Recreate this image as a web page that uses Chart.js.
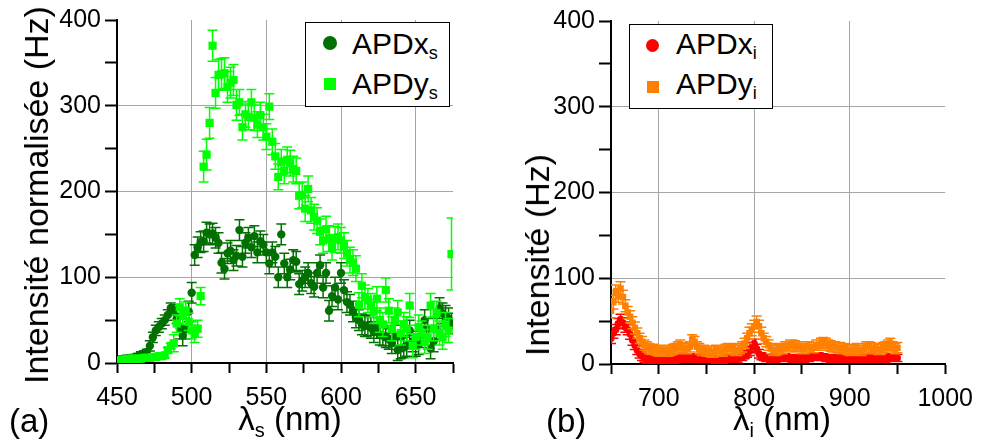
<!DOCTYPE html>
<html>
<head>
<meta charset="utf-8">
<script src="https://cdn.jsdelivr.net/npm/chart.js@4"></script>
<style>
  html, body { margin: 0; padding: 0; background: #fff; }
  #wrap { position: relative; width: 983px; height: 446px; overflow: hidden; font-family: 'Liberation Sans', Arial, sans-serif; color: #000; }
  canvas { position: absolute; top: 0; }
  .txt { position: absolute; white-space: nowrap; line-height: 1; }
  .ytitle { position: absolute; white-space: nowrap; line-height: 1; font-size: 34px; transform: translate(-50%, -50%) rotate(-90deg); }
  .xtitle { position: absolute; white-space: nowrap; line-height: 1; font-size: 33px; transform: translateX(-50%); }
  sub { font-size: 20px; vertical-align: -7px; line-height: 0; }
  .legend { position: absolute; background: #fff; border: 1px solid #000; box-sizing: border-box; }
  .legend .lbl { position: absolute; font-size: 30px; line-height: 1; white-space: nowrap; }
  .legend .lbl sub { font-size: 18px; vertical-align: -5px; }
  .mk { position: absolute; }
</style>
</head>
<body>
<div id="wrap">
  <canvas id="chartS" width="470" height="446" style="left:0"></canvas>
  <canvas id="chartI" width="493" height="446" style="left:490px"></canvas>

  <div class="ytitle" style="left:36px; top:195px">Intensité normalisée (Hz)</div>
  <div class="ytitle" style="left:537px; top:255px">Intensité (Hz)</div>
  <div class="xtitle" style="left:290px; top:402px">λ<sub>s</sub> (nm)</div>
  <div class="xtitle" style="left:782px; top:402px">λ<sub>i</sub> (nm)</div>
  <div class="txt" style="left:9px; top:404px; font-size:33px">(a)</div>
  <div class="txt" style="left:546px; top:404px; font-size:33px">(b)</div>

  <div class="legend" style="left:305px; top:22px; width:145px; height:85px">
    <div class="mk" style="left:17px; top:13px; width:14px; height:14px; border-radius:50%; background:#007000"></div>
    <div class="lbl" style="left:46px; top:6px">APDx<sub>s</sub></div>
    <div class="mk" style="left:18px; top:55px; width:12px; height:12px; background:#00ff00"></div>
    <div class="lbl" style="left:46px; top:46px">APDy<sub>s</sub></div>
  </div>
  <div class="legend" style="left:629px; top:24px; width:144px; height:85px">
    <div class="mk" style="left:16px; top:14px; width:13px; height:13px; border-radius:50%; background:#ff0000"></div>
    <div class="lbl" style="left:46px; top:4px">APDx<sub>i</sub></div>
    <div class="mk" style="left:17px; top:56px; width:12px; height:12px; background:#ff8000"></div>
    <div class="lbl" style="left:46px; top:44px">APDy<sub>i</sub></div>
  </div>
</div>

<script>
// ---- panel (a): signal wavelengths ----
const lamS = [452,454,456,458,460,462,464,466,468,470,472,474,476,478,480,482,484,486,488,490,
  492,494,496,498,500,502,504,506,508,510,512,514,516,518,520,522,524,526,528,530,
  532,534,536,538,540,542,544,546,548,550,552,554,556,558,560,562,564,566,568,570,
  572,574,576,578,580,582,584,586,588,590,592,594,596,598,600,602,604,606,608,610,
  612,614,616,618,620,622,624,626,628,630,632,634,636,638,640,642,644,646,648,650,
  652,654,656,658,660,662,664,666,668,670,672,674];

const apdXs = [4,5,5,6,6,7,8,10,11,13,20,30,38,42,46,50,56,64,62,52,
  40,32,40,60,82,126,135,141,142,152,150,151,146,140,117,110,128,131,120,125,
  155,124,140,146,135,148,129,142,138,129,116,129,124,100,150,116,100,109,120,118,
  92,96,100,105,93,89,105,114,88,105,61,78,88,74,105,85,71,68,60,53,
  50,45,43,44,41,36,41,33,32,30,28,23,32,15,17,18,20,38,25,20,
  22,30,50,40,17,25,40,64,58,55,52,46];
const errXs = [3,3,3,3,3,3,3,3,3,3,6,6,6,6,6,6,6,6,6,6,
  12,12,12,12,12,12,12,12,12,12,12,12,12,12,12,12,12,12,12,12,
  12,12,12,12,12,12,12,12,12,12,12,12,12,12,12,12,12,12,12,12,
  12,12,12,12,12,12,12,12,12,12,12,12,12,12,12,12,12,12,12,12,
  12,12,12,12,12,12,12,12,12,12,12,12,12,12,12,12,12,12,12,12,
  12,12,12,12,12,12,12,12,12,12,12,12];

const apdYs = [3,4,4,5,5,5,5,5,6,6,6,7,7,8,8,9,15,20,23,46,
  65,55,61,48,38,34,40,78,229,243,280,370,315,336,337,338,322,327,330,301,
  304,275,290,287,304,286,278,289,275,264,299,258,241,217,234,224,237,233,226,224,
  195,196,180,203,178,170,166,153,143,156,145,135,144,147,143,137,128,120,117,110,
  68,90,77,73,67,60,75,50,45,85,61,40,50,59,35,45,40,67,20,30,
  42,35,25,30,67,40,58,35,30,45,38,127];
const errYs = [3,3,3,3,3,3,3,3,3,3,3,3,3,3,3,3,3,3,10,10,
  10,10,10,10,10,10,10,10,18,18,18,18,18,18,18,18,18,18,18,18,
  15,15,15,15,15,15,15,15,15,15,15,15,15,15,15,15,15,15,15,15,
  15,15,15,15,15,15,15,15,15,15,15,15,15,15,15,15,15,15,15,15,
  14,14,14,14,14,14,14,14,14,14,14,14,14,14,14,14,14,14,14,14,
  14,14,14,14,14,14,14,14,14,14,14,42];

// ---- panel (b): idler wavelengths ----
const lamI = [650,652.5,655,657.5,660,662.5,665,667.5,670,672.5,675,677.5,680,682.5,685,687.5,690,692.5,695,697.5,700,
  702.5,705,707.5,710,712.5,715,717.5,720,722.5,725,727.5,730,732.5,735,737.5,740,742.5,745,747.5,750,
  752.5,755,757.5,760,762.5,765,767.5,770,772.5,775,777.5,780,782.5,785,787.5,790,792.5,795,797.5,800,
  802.5,805,807.5,810,812.5,815,817.5,820,822.5,825,827.5,830,832.5,835,837.5,840,842.5,845,847.5,850,
  852.5,855,857.5,860,862.5,865,867.5,870,872.5,875,877.5,880,882.5,885,887.5,890,892.5,895,897.5,900,
  902.5,905,907.5,910,912.5,915,917.5,920,922.5,925,927.5,930,932.5,935,937.5,940,942.5,945,947.5,950];

const apdXi = [30,36,40,47,52,48,43,40,35,28,22,16,12,9,7,6,5,5,4,4,5,
  6,5,5,6,7,5,4,6,6,7,6,7,6,8,7,6,7,6,6,7,
  6,7,6,5,6,5,5,6,6,7,7,6,6,8,8,10,12,15,20,24,
  18,12,9,8,7,7,6,6,6,7,7,8,8,7,7,6,6,7,7,7,
  6,7,7,8,8,9,9,8,8,7,7,6,6,7,7,6,6,7,7,7,
  6,6,6,7,7,6,6,7,7,6,6,7,7,6,6,7,8,8,7,7];
const errXi = [6,6,6,6,6,6,6,6,6,6,5,5,5,5,5,5,5,5,5,5,5,
  4,4,4,4,4,4,4,4,4,4,4,4,4,4,4,4,4,4,4,4,
  4,4,4,4,4,4,4,4,4,4,4,4,4,4,4,4,4,5,5,5,
  5,5,4,4,4,4,4,4,4,4,4,4,4,4,4,4,4,4,4,4,
  4,4,4,4,4,4,4,4,4,4,4,4,4,4,4,4,4,4,4,4,
  4,4,4,4,4,4,4,4,4,4,4,4,4,4,4,4,4,4,4,4];

const apdYi = [62,72,84,80,88,78,68,60,55,48,42,36,30,26,22,20,18,17,17,16,15,
  16,15,16,15,16,17,18,20,22,19,18,18,20,28,26,20,18,16,16,15,
  15,14,14,16,16,15,15,17,18,18,17,16,16,18,20,24,30,36,40,44,
  49,44,36,30,26,22,18,16,16,17,18,18,20,20,22,22,21,20,20,18,
  18,20,20,19,19,22,22,24,25,24,22,21,20,20,19,19,18,18,17,16,
  16,17,18,16,16,18,20,20,19,18,18,17,17,19,20,22,24,20,18,19];
const errYi = [8,8,8,8,8,8,7,7,7,7,7,6,6,6,6,6,6,6,6,6,6,
  6,6,6,6,6,6,6,6,6,6,6,6,6,6,6,6,6,6,6,6,
  6,6,6,6,6,6,6,6,6,6,6,6,6,6,6,6,6,7,7,7,
  7,7,7,6,6,6,6,6,6,6,6,6,6,6,6,6,6,6,6,6,
  6,6,6,6,6,6,6,6,6,6,6,6,6,6,6,6,6,6,6,6,
  6,6,6,6,6,6,6,6,6,6,6,6,6,6,6,6,6,6,6,6];

const GRID = '#a6a6a6';
const TICK_FONT = { family: 'Liberation Sans', size: 25 };

// vertical error bars with caps, drawn just under each dataset's markers
const errorBars = {
  id: 'errorBars',
  beforeDatasetDraw(chart, args) {
    const ds = chart.data.datasets[args.index];
    if (!ds.errors) return;
    const { x, y } = chart.scales;
    const a = chart.chartArea;
    const ctx = chart.ctx;
    ctx.save();
    ctx.beginPath();
    ctx.rect(a.left, a.top, a.right - a.left, a.bottom - a.top);
    ctx.clip();
    ctx.strokeStyle = ds.backgroundColor;
    ctx.lineWidth = 1.5;
    ctx.beginPath();
    ds.data.forEach((p, i) => {
      const e = ds.errors[i];
      const px = x.getPixelForValue(p.x);
      const y1 = y.getPixelForValue(p.y + e);
      const y2 = y.getPixelForValue(p.y - e);
      ctx.moveTo(px, y1); ctx.lineTo(px, y2);
      ctx.moveTo(px - 5, y1); ctx.lineTo(px + 5, y1);
      ctx.moveTo(px - 5, y2); ctx.lineTo(px + 5, y2);
    });
    ctx.stroke();
    ctx.restore();
  }
};

function pts(xs, ys) {
  return xs.map((v, i) => ({ x: v, y: ys[i] }));
}

function makePanel(id, o) {
  return new Chart(document.getElementById(id), {
    type: 'scatter',
    data: { datasets: o.datasets },
    plugins: [errorBars],
    options: {
      responsive: false,
      animation: false,
      devicePixelRatio: 1,
      layout: { padding: o.padding },
      plugins: { legend: { display: false }, tooltip: { enabled: false } },
      scales: {
        x: {
          type: 'linear', min: o.xMin, max: o.xMax,
          ticks: {
            stepSize: o.xStep, autoSkip: false, maxRotation: 0, padding: 10,
            font: TICK_FONT, color: '#000',
            callback: v => o.xLabels.includes(v) ? String(v) : ''
          },
          grid: {
            color: c => (c.tick && o.xGrid.includes(c.tick.value)) ? GRID : 'rgba(0,0,0,0)',
            lineWidth: 1, tickColor: '#000', tickWidth: 2, tickLength: 10
          },
          border: { color: '#000', width: 2 },
          afterFit: s => { s.height = o.xHeight; }
        },
        y: {
          min: 0, max: 400,
          ticks: {
            stepSize: 50, padding: 4, font: TICK_FONT, color: '#000',
            callback: v => v % 100 === 0 ? String(v) : ''
          },
          grid: {
            color: c => (c.tick && [100, 200, 300].includes(c.tick.value)) ? GRID : 'rgba(0,0,0,0)',
            lineWidth: 1, tickColor: '#000', tickWidth: 2, tickLength: 12
          },
          border: { color: '#000', width: 2 },
          afterFit: s => { s.width = o.yWidth; }
        }
      }
    }
  });
}

makePanel('chartS', {
  xMin: 450, xMax: 675, xStep: 25,
  xLabels: [450, 500, 550, 600, 650],
  xGrid: [500, 550, 600, 650],
  padding: { left: 0, top: 20, right: 17, bottom: 0 },
  yWidth: 117, xHeight: 83,
  datasets: [
    { label: 'APDxs', data: pts(lamS, apdXs), errors: errXs, order: 1,
      backgroundColor: '#007000', borderColor: '#007000', borderWidth: 0,
      pointStyle: 'circle', pointRadius: 4.2, pointHoverRadius: 4.2 },
    { label: 'APDys', data: pts(lamS, apdYs), errors: errYs, order: 0,
      backgroundColor: '#00ff00', borderColor: '#00ff00', borderWidth: 0,
      pointStyle: 'rect', pointRadius: 5.8, pointHoverRadius: 5.8 }
  ]
});

makePanel('chartI', {
  xMin: 650, xMax: 1000, xStep: 50,
  xLabels: [700, 800, 900, 1000],
  xGrid: [700, 800, 900],
  padding: { left: 0, top: 21, right: 37, bottom: 0 },
  yWidth: 121, xHeight: 82,
  datasets: [
    { label: 'APDxi', data: pts(lamI, apdXi), errors: errXi, order: 1,
      backgroundColor: '#ff0000', borderColor: '#ff0000', borderWidth: 0,
      pointStyle: 'circle', pointRadius: 3.6, pointHoverRadius: 3.6 },
    { label: 'APDyi', data: pts(lamI, apdYi), errors: errYi, order: 0,
      backgroundColor: '#ff8000', borderColor: '#ff8000', borderWidth: 0,
      pointStyle: 'rect', pointRadius: 4.6, pointHoverRadius: 4.6 }
  ]
});
</script>
</body>
</html>
